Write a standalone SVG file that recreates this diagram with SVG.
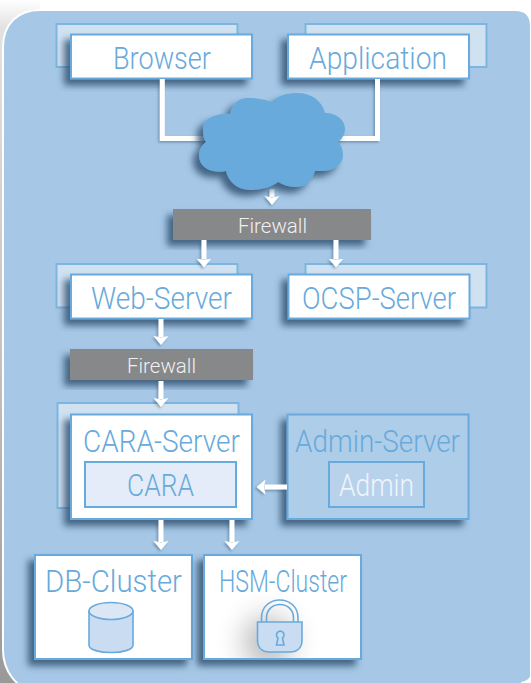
<svg xmlns="http://www.w3.org/2000/svg" width="531" height="683" viewBox="0 0 531 683">
<style>
text{font-family:"Roboto","Lato","Liberation Sans",sans-serif;font-weight:300;text-anchor:middle}
.lbl{font-size:31px;fill:#68aadb}
.fw{fill:#87888a}
.fwt{font-size:21px;fill:#f0f0f0}
.front{fill:#fff;stroke:#68aadb;stroke-width:2}
.back{fill:#d0e2f2;stroke:#7db5e0;stroke-width:2}
.inner{fill:#e3ecf8;stroke:#68aadb;stroke-width:2}
.icon{fill:#c9dcf2;stroke:#68aadb;stroke-width:1.6}
.wire{fill:none;stroke:#fff;stroke-width:5}
.arr{marker-end:url(#ah)}
</style>
<defs>
<filter id="sh" x="-30%" y="-30%" width="150%" height="160%"><feDropShadow dx="-6" dy="6" stdDeviation="3.5" flood-color="#2a4a6c" flood-opacity=".8"/></filter>
<filter id="shs" x="-10%" y="-10%" width="120%" height="120%"><feDropShadow dx="-1.5" dy="1.5" stdDeviation="1.2" flood-color="#2f4f70" flood-opacity=".45"/></filter>
<filter id="blur" x="-80%" y="-80%" width="260%" height="260%"><feGaussianBlur stdDeviation="14"/></filter>
<linearGradient id="edge" gradientUnits="userSpaceOnUse" x1="0" y1="0" x2="0" y2="683"><stop offset="0" stop-color="#fff"/><stop offset=".04" stop-color="#e2e2e2"/><stop offset=".5" stop-color="#c4c4c4"/><stop offset="1" stop-color="#999"/></linearGradient>
<clipPath id="hsmclip"><rect x="205" y="556" width="155" height="102"/></clipPath>
<marker id="ah" viewBox="0 0 9 16" refX="1" refY="8" markerWidth="9" markerHeight="16" markerUnits="userSpaceOnUse" orient="auto"><path d="M0 0.500L9 8L0 15.500L1.500 8Z" fill="#fff"/></marker>
</defs>
<rect width="531" height="683" fill="#fff"/>
<rect x="0" y="0" width="40" height="683" fill="url(#edge)"/>
<path id="panel" d="M3 47C3 24 18 10 40 10H515Q531 10 531 26V676Q531 680 522 683V690H36C16 690 3 670 3 650Z" fill="#a6c8e6" stroke="#fff" stroke-width="2"/>

<g id="browser"><rect class="back" x="56.500" y="24" width="181" height="43"/><rect class="front" x="71" y="34.500" width="181" height="44" filter="url(#sh)"/><text class="lbl" x="162" y="68.500" textLength="98" lengthAdjust="spacingAndGlyphs">Browser</text></g>
<g id="application"><rect class="back" x="305.500" y="24" width="181" height="43"/><rect class="front" x="288" y="34.500" width="181" height="44" filter="url(#sh)"/><text class="lbl" x="378" y="68.500" textLength="138" lengthAdjust="spacingAndGlyphs">Application</text></g>
<g id="firewall-1"><rect class="fw" x="173" y="209" width="198" height="31" filter="url(#sh)"/><text class="fwt" x="272.500" y="233" textLength="69" lengthAdjust="spacingAndGlyphs">Firewall</text></g>
<g id="web-server"><rect class="back" x="56.500" y="264" width="181" height="43.500"/><rect class="front" x="71" y="274.500" width="181" height="44" filter="url(#sh)"/><text class="lbl" x="161.500" y="308.500" textLength="141" lengthAdjust="spacingAndGlyphs">Web-Server</text></g>
<g id="ocsp-server"><rect class="back" x="305.500" y="264" width="181" height="43.500"/><rect class="front" x="288.500" y="274.500" width="181" height="44" filter="url(#sh)"/><text class="lbl" x="379" y="308.500" textLength="154" lengthAdjust="spacingAndGlyphs">OCSP-Server</text></g>
<g id="firewall-2"><rect class="fw" x="70" y="349" width="183" height="31" filter="url(#sh)"/><text class="fwt" x="161.500" y="373" textLength="69" lengthAdjust="spacingAndGlyphs">Firewall</text></g>
<g id="cara-server"><rect class="back" x="57.500" y="403" width="181" height="105"/><rect class="front" x="71" y="414.500" width="181" height="104.500" filter="url(#sh)"/><text class="lbl" x="161.500" y="451.500" textLength="157" lengthAdjust="spacingAndGlyphs">CARA-Server</text><rect class="inner" x="85" y="462" width="151" height="45"/><text class="lbl" x="160.500" y="496" textLength="67" lengthAdjust="spacingAndGlyphs">CARA</text></g>
<g id="admin-server"><rect x="287.500" y="414.500" width="181" height="104.500" fill="#aecde9" stroke="#68aadb" stroke-width="2" filter="url(#sh)"/><text class="lbl" x="377.500" y="451.500" textLength="165" lengthAdjust="spacingAndGlyphs">Admin-Server</text><rect x="329" y="462" width="95" height="45" fill="#b9d2ec" stroke="#68aadb" stroke-width="2"/><text class="lbl" x="376.500" y="496" textLength="75" lengthAdjust="spacingAndGlyphs" style="fill:#eef5fb">Admin</text></g>
<g id="db-cluster"><rect class="front" x="35" y="555" width="157" height="104" filter="url(#sh)"/><text class="lbl" x="113.500" y="592" textLength="137" lengthAdjust="spacingAndGlyphs">DB-Cluster</text><path class="icon" d="M89 611V645C89 655 133 655 133 645V611"/><ellipse class="icon" cx="111" cy="611" rx="22" ry="8.500" style="fill:#dbe7f5"/></g>
<g id="hsm-cluster"><rect class="front" x="204" y="555" width="157" height="104" filter="url(#sh)"/><g clip-path="url(#hsmclip)"><ellipse cx="268" cy="642" rx="24" ry="26" fill="#8a8a8a" opacity=".6" filter="url(#blur)"/></g><text class="lbl" x="283" y="592" textLength="128" lengthAdjust="spacingAndGlyphs">HSM-Cluster</text>
<path d="M261.500 622V618C261.500 594 298 594 298 618V622" fill="none" stroke="#68aadb" stroke-width="1.600"/><path d="M266.500 622V618C266.500 600 293.500 600 293.500 618V622" fill="none" stroke="#68aadb" stroke-width="1.600"/>
<path class="icon" d="M257.500 622H302V640C302 648 297 652 290 652H269.500C262.500 652 257.500 648 257.500 640Z"/><path d="M276.500 645L278 638A3.800 3.800 0 1 1 282.500 638L284 645Z" fill="none" stroke="#68aadb" stroke-width="1.600"/></g>

<g id="connectors">
<g filter="url(#shs)">
<path class="wire" d="M162.300 79V138.500H208"/>
<path class="wire" d="M377.500 79V138.500H338"/>
<path class="wire" d="M272 189V197" style="marker-end:url(#ah)"/>
<path class="wire arr" d="M204 240V259.500"/>
<path class="wire arr" d="M336 240V259.500"/>
<path class="wire arr" d="M161 319V337"/>
<path class="wire arr" d="M161 381V399"/>
<path class="wire arr" d="M287 487H264.500"/>
<path class="wire arr" d="M161 520V542"/>
<path class="wire arr" d="M232 520V542"/>
</g>
</g>
<g id="cloud"><path d="M272 102C278 95 288 93 297 93C312 93 322 101 325 113C337 113 345 120 345 129C345 135 341 140 338 142C342 146 343 151 343 155C343 165 333 171 323 171C320 171 317 171 315 171C312 181 306 187 296 187C289 187 283 185 278 182C272 187 262 190 250 190C237 190 228 181 226 171C219 173 199 172 199 155C199 149 202 145 206 142C203 138 203 133 203 128C203 118 218 113 230 114C232 104 238 98 248 98C258 98 266 100 272 102Z" fill="#68aadb" filter="url(#sh)"/></g>
</svg>
